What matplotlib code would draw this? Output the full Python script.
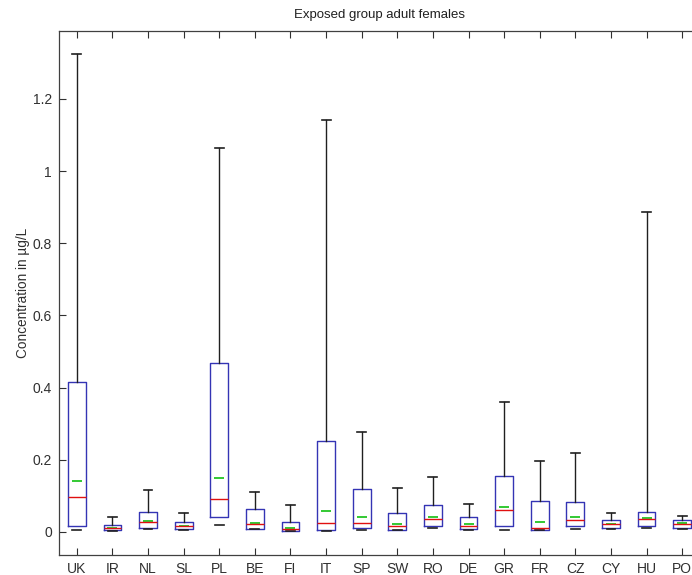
import matplotlib
matplotlib.use("Agg")
import matplotlib.pyplot as plt

plt.rcParams["font.family"] = ["Liberation Sans", "DejaVu Sans"]

# Country codes along the x axis
countries = ["UK", "IR", "NL", "SL", "PL", "BE", "FI", "IT", "SP",
             "SW", "RO", "DE", "GR", "FR", "CZ", "CY", "HU", "PO"]

# Box statistics per country (concentration in ug/L)
upper_whisker = [1.324, 0.042, 0.116, 0.051, 1.065, 0.110, 0.074, 1.141, 0.277,
                 0.123, 0.151, 0.0775, 0.360, 0.197, 0.218, 0.051, 0.886, 0.045]
upper_quartile = [0.414, 0.0185, 0.0545, 0.028, 0.467, 0.063, 0.027, 0.253, 0.120,
                  0.052, 0.075, 0.040, 0.155, 0.087, 0.083, 0.032, 0.0545, 0.034]
medians = [0.096, 0.010, 0.0277, 0.0175, 0.091, 0.023, 0.009, 0.024, 0.024,
           0.016, 0.035, 0.0175, 0.060, 0.012, 0.034, 0.021, 0.036, 0.022]
means = [0.141, 0.012, 0.029, 0.017, 0.150, 0.026, 0.012, 0.058, 0.041,
         0.021, 0.0415, 0.022, 0.070, 0.0277, 0.041, 0.023, 0.039, 0.025]
lower_quartile = [0.015, 0.005, 0.011, 0.009, 0.040, 0.009, 0.003, 0.004, 0.012,
                  0.0065, 0.0175, 0.009, 0.0175, 0.0055, 0.015, 0.011, 0.0175, 0.012]
lower_whisker = [0.004, 0.003, 0.0075, 0.004, 0.0185, 0.0075, 0.002, 0.003, 0.0065,
                 0.005, 0.010, 0.005, 0.0065, 0.004, 0.0075, 0.0075, 0.010, 0.0075]

positions = list(range(1, len(countries) + 1))

stats = [
    {"label": c, "whislo": lo, "q1": q1, "med": m, "q3": q3, "whishi": hi, "fliers": []}
    for c, lo, q1, m, q3, hi in zip(countries, lower_whisker, lower_quartile,
                                    medians, upper_quartile, upper_whisker)
]

fig = plt.figure(figsize=(6.92, 5.75), dpi=100)
ax = fig.add_axes([59 / 692, 20 / 575, 641 / 692, 524 / 575])

box_color = "#3434b4"
parts = ax.bxp(
    stats, positions=positions, widths=0.5, capwidths=0.25,
    showfliers=False, patch_artist=False,
    boxprops=dict(color=box_color, linewidth=1.0),
    medianprops=dict(color="#e01010", linewidth=1.0),
    whiskerprops=dict(color="#202020", linewidth=1.0),
    capprops=dict(color="#202020", linewidth=1.2),
)
# only the upper whiskers are drawn as lines
for i, w in enumerate(parts["whiskers"]):
    if i % 2 == 0:
        w.set_visible(False)

# mean markers: short green bars inside each box
ax.hlines(means, [p - 0.14 for p in positions], [p + 0.14 for p in positions],
          colors="#10c010", linewidth=1.2)

ax.set_xlim(0.5, len(countries) + 0.5)
ax.set_ylim(-0.064, 1.388)
ax.set_xticks(positions)
ax.set_xticklabels(countries)
ax.set_yticks([0, 0.2, 0.4, 0.6, 0.8, 1.0, 1.2])
ax.set_yticklabels(["0", "0.2", "0.4", "0.6", "0.8", "1", "1.2"])
ax.tick_params(direction="in", top=True, right=True, length=5, width=0.8,
               colors="#303030", labelsize=10, pad=5)
for s in ax.spines.values():
    s.set_color("#404040")
    s.set_linewidth(0.9)

ax.set_ylabel("Concentration in µg/L", fontsize=9.8, color="#303030", labelpad=2)
fig.text(379.5 / 692, 1 - 15 / 575, "Exposed group adult females",
         ha="center", va="center", fontsize=9.5, color="#202020")

fig.savefig("out.png", dpi=100)
